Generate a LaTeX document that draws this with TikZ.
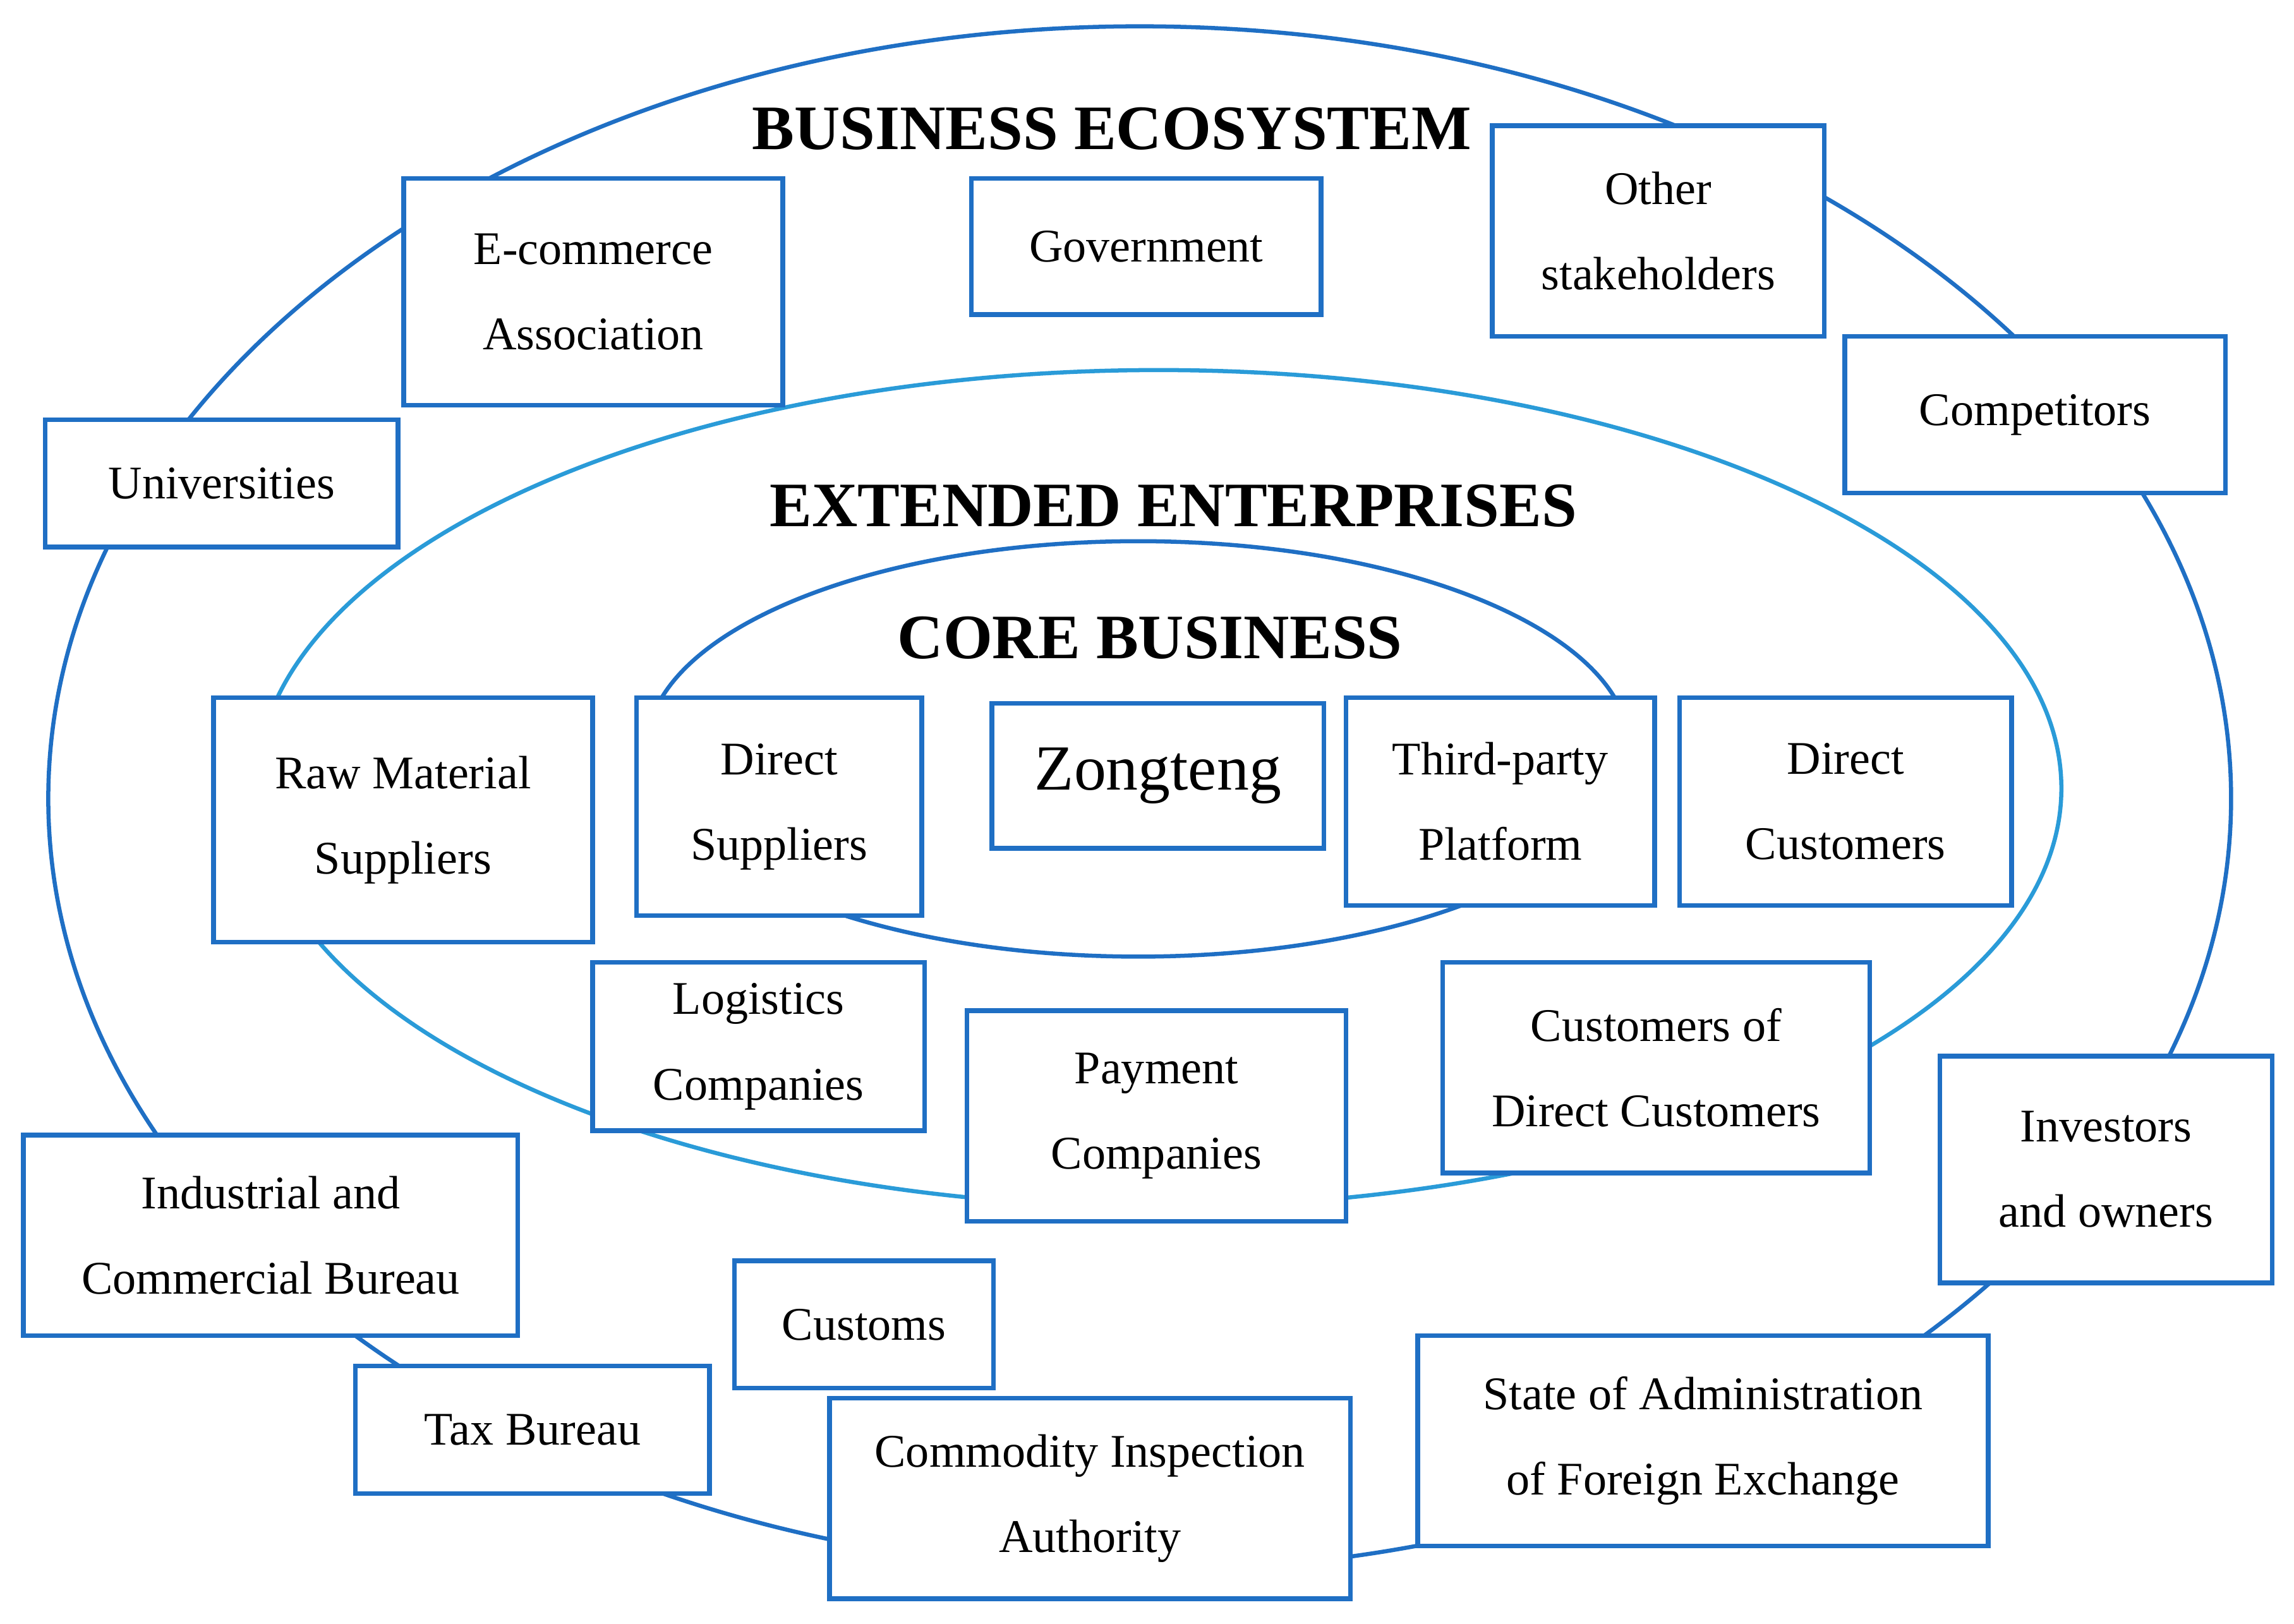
\documentclass[tikz,border=0pt]{standalone}
\usepackage{fontspec}
\setmainfont{Liberation Serif}
\definecolor{dblue}{HTML}{1F6FC4}
\definecolor{lblue}{HTML}{2A9BD8}
\newcommand{\bx}[6]{\node[box,minimum width={(#4-#2)*0.01cm},minimum height={(#5-#3)*0.01cm}] (#1) at ({(#2+#4)/2},{-(#3+#5)/2}) {#6};}
\begin{document}
\begin{tikzpicture}[x=0.01cm,y=0.01cm,
  box/.style={draw=dblue,line width=0.9pt,fill=white,inner sep=0pt,align=center,font=\fontsize{9.1}{16.6}\selectfont},
  ttl/.style={font=\fontsize{12.3}{14}\selectfont\bfseries}]
\useasboundingbox (0,0) rectangle (1568,-1110);
\draw[dblue,line width=0.8pt] (779,-546) ellipse [x radius=746,y radius=528];
\draw[lblue,line width=0.8pt] (792,-539) ellipse [x radius=617,y radius=286];
\draw[dblue,line width=0.8pt] (778,-512) ellipse [x radius=336,y radius=142];
\node[ttl] (t1) at (760,-88) {BUSINESS ECOSYSTEM};
\node[ttl] (t2) at (802,-346) {EXTENDED ENTERPRISES};
\node[ttl] (t3) at (786,-436) {CORE BUSINESS};
\bx{ec}{276}{122}{535}{277}{E-commerce\\Association}
\bx{gov}{664}{122}{903}{215}{Government}
\bx{oth}{1020}{86}{1247}{230}{Other\\stakeholders}
\bx{comp}{1261}{230}{1521}{337}{Competitors}
\bx{uni}{31}{287}{272}{374}{Universities}
\bx{raw}{146}{477}{405}{644}{Raw Material\\Suppliers}
\bx{ds}{435}{477}{630}{626}{Direct\\Suppliers}
\bx{zt}{678}{481}{905}{580}{\fontsize{12.5}{14}\selectfont Zongteng}
\bx{tp}{920}{477}{1131}{619}{Third-party\\Platform}
\bx{dc}{1148}{477}{1375}{619}{Direct\\Customers}
\bx{log}{405}{658}{632}{773}{Logistics\\Companies}
\bx{pay}{661}{691}{920}{835}{Payment\\Companies}
\bx{cdc}{986}{658}{1278}{802}{Customers of\\Direct Customers}
\bx{inv}{1326}{722}{1553}{877}{Investors\\and owners}
\bx{icb}{16}{776}{354}{913}{Industrial and\\Commercial Bureau}
\bx{cus}{502}{862}{679}{949}{Customs}
\bx{tax}{243}{934}{485}{1021}{Tax Bureau}
\bx{cia}{567}{956}{923}{1093}{Commodity Inspection\\Authority}
\bx{safe}{969}{913}{1359}{1057}{State of Administration\\of Foreign Exchange}
\end{tikzpicture}
\end{document}
